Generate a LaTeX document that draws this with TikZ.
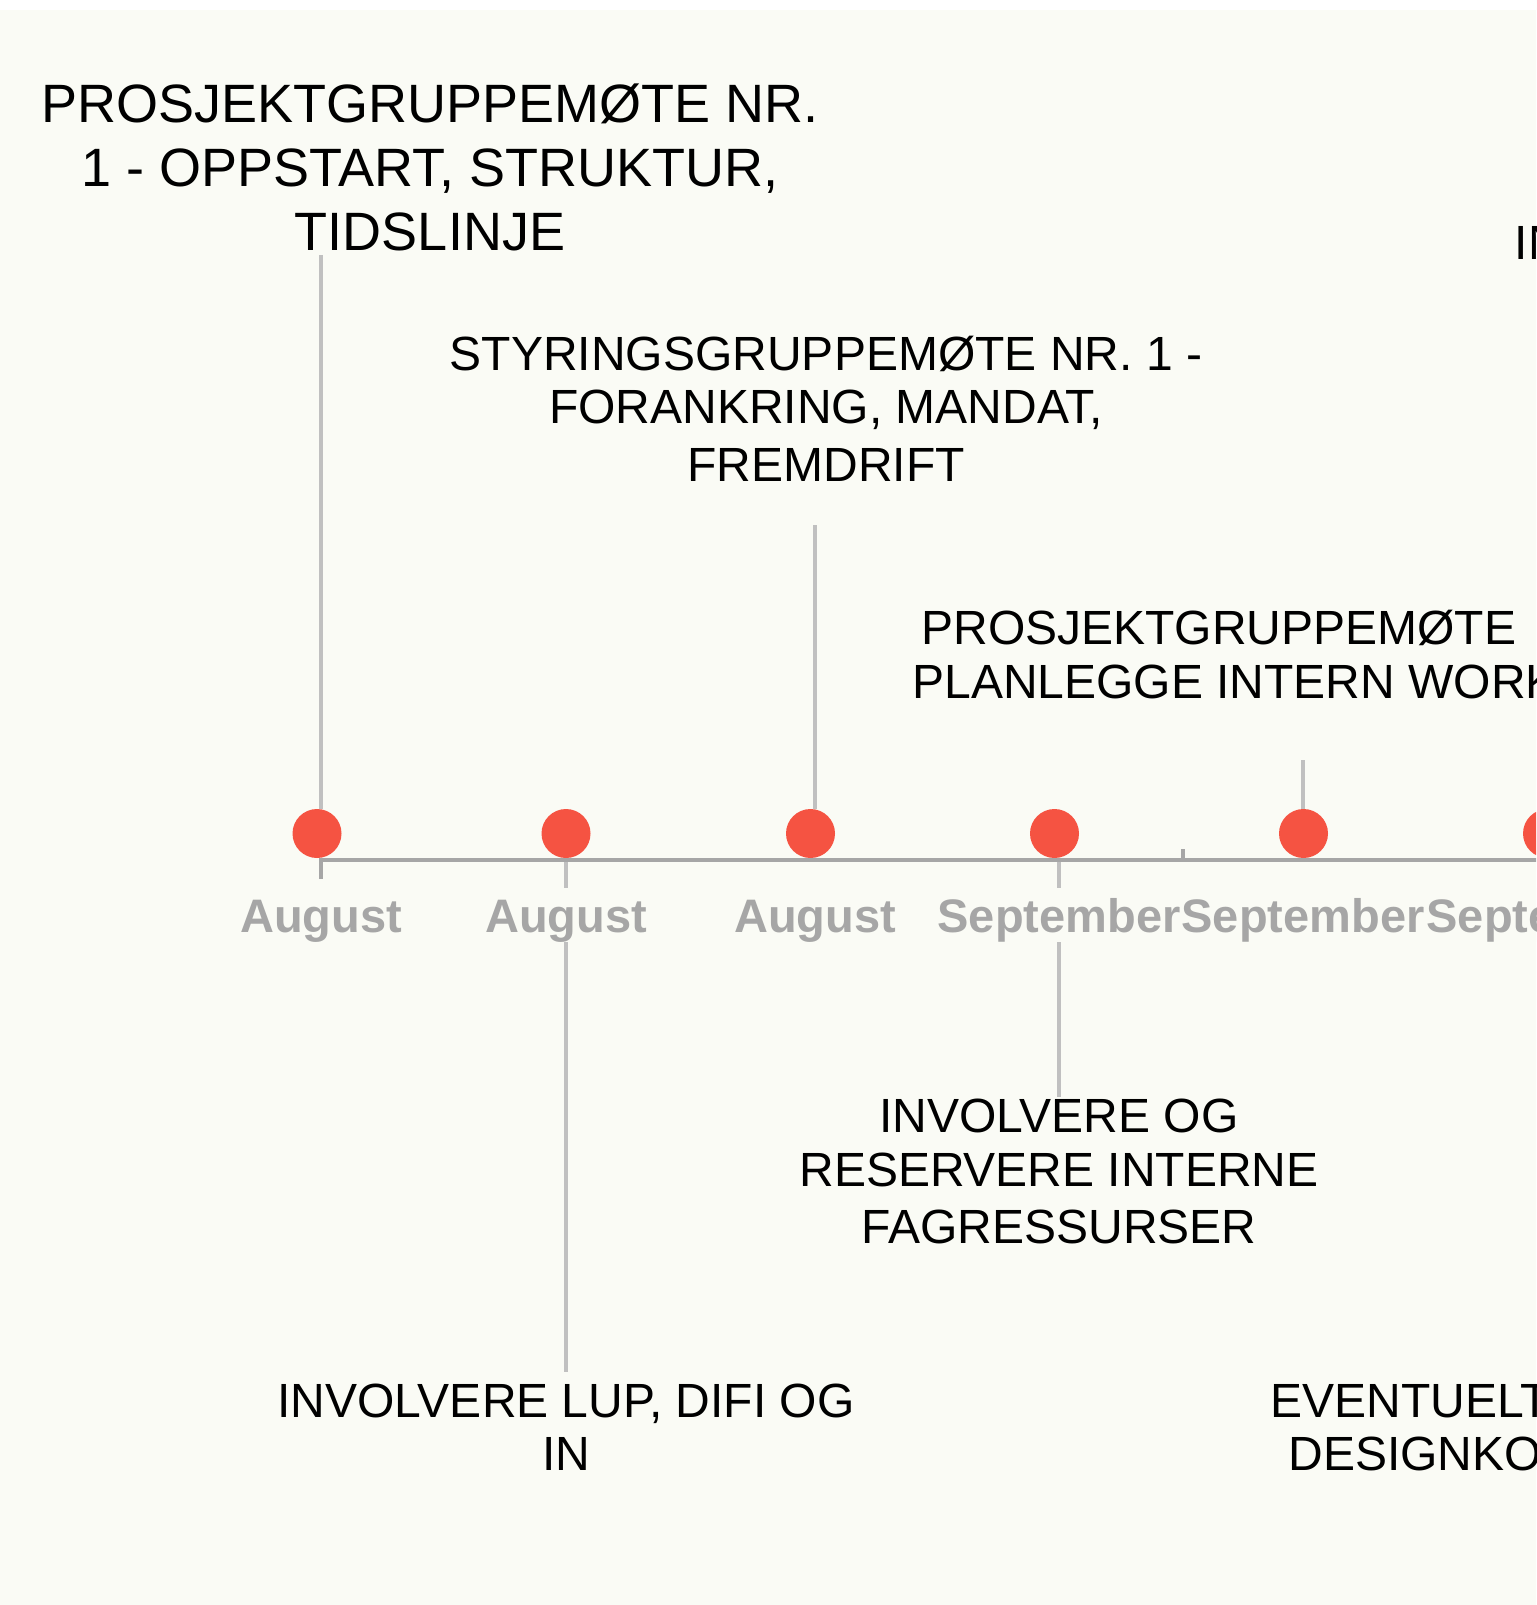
\documentclass[tikz,border=0pt]{standalone}
\usepackage{fontspec}
\setmainfont{Liberation Sans}
\definecolor{paper}{RGB}{250,251,245}
\definecolor{dotred}{RGB}{245,83,66}
\definecolor{axisgrey}{RGB}{166,166,166}
\definecolor{stemgrey}{RGB}{192,192,192}

\begin{document}
\begin{tikzpicture}[x=0.5pt, y=-0.5pt,
    event/.style={anchor=base, inner sep=0pt, text=black, font=\fontsize{24pt}{28pt}\selectfont},
    bigevent/.style={event, font=\fontsize{27pt}{32pt}\selectfont},
    cutevent/.style={event, anchor=base west},
    month/.style={anchor=base, fill=paper, inner xsep=1pt, inner ysep=0pt,
        text height=22pt, text depth=5pt, text=axisgrey,
        font=\fontsize{23.5pt}{28pt}\selectfont\bfseries},
    milestone/.style={circle, fill=dotred, inner sep=0pt, minimum size=24.5pt},
    stemline/.style={draw=stemgrey, line width=2pt},
    axisline/.style={draw=axisgrey, line width=2pt}]

    % Page and background
    \useasboundingbox (0,0) rectangle (1536,1605);
    \fill[white] (0,0) rectangle (1536,10);
    \fill[paper] (0,10) rectangle (1536,1605);
    \clip (0,0) rectangle (1536,1605);

    % Free ends of the stems
    \coordinate (s1) at (321,255);
    \coordinate (s2) at (566,1372);
    \coordinate (s3) at (815,525);
    \coordinate (s4) at (1059,1097);
    \coordinate (s5) at (1303,760);

    % Milestones
    \node[milestone] (d1) at (317,833.5) {};
    \node[milestone] (d2) at (566,833.5) {};
    \node[milestone] (d3) at (810.5,833.5) {};
    \node[milestone] (d4) at (1054.5,833.5) {};
    \node[milestone] (d5) at (1303.5,833.5) {};
    \node[milestone] (d6) at (1547.5,833.5) {};

    % Stems
    \draw[stemline] (s1) -- (s1 |- d1.north);
    \draw[stemline] (s3) -- (s3 |- d3.north);
    \draw[stemline] (s5) -- (s5 |- d5.north);
    \draw[stemline] (d2.south) -- (s2);
    \draw[stemline] (s4 |- d4.south) -- (s4);

    % Time axis
    \draw[axisline] (321,879) -- (321,860) -- (1540,860);
    \draw[axisline] (1183,849) -- (1183,860);

    % Month labels
    \node[month] (m1) at (321,932) {August};
    \node[month] (m2) at (566,932) {August};
    \node[month] (m3) at (815,932) {August};
    \node[month] (m4) at (1059,932) {September};
    \node[month] (m5) at (1303,932) {September};
    \node[month] (m6) at (1548,932) {September};

    % Above the axis
    \node[bigevent] (e1a) at (430,123) {PROSJEKTGRUPPEMØTE NR.};
    \node[bigevent] (e1b) at (430,187) {1 - OPPSTART, STRUKTUR,};
    \node[bigevent] (e1c) at (430,250) {TIDSLINJE};

    \node[event] (e3a) at (826,370) {STYRINGSGRUPPEMØTE NR. 1 -};
    \node[event] (e3b) at (826,423) {FORANKRING, MANDAT,};
    \node[event] (e3c) at (826,481) {FREMDRIFT};

    \node[cutevent] (e5a) at (921,644) {PROSJEKTGRUPPEMØTE};
    \node[cutevent] (e5b) at (912,698) {PLANLEGGE INTERN WORKSHOP};

    \node[cutevent] (e7a) at (1514.5,259) {IN};

    % Below the axis
    \node[event] (e2a) at (566,1417) {INVOLVERE LUP, DIFI OG};
    \node[event] (e2b) at (566,1470) {IN};

    \node[event] (e4a) at (1059,1132) {INVOLVERE OG};
    \node[event] (e4b) at (1059,1186) {RESERVERE INTERNE};
    \node[event] (e4c) at (1059,1243) {FAGRESSURSER};

    \node[cutevent] (e6a) at (1270,1417) {EVENTUELT};
    \node[cutevent] (e6b) at (1288,1470) {DESIGNKONKURRANSE};
\end{tikzpicture}
\end{document}
